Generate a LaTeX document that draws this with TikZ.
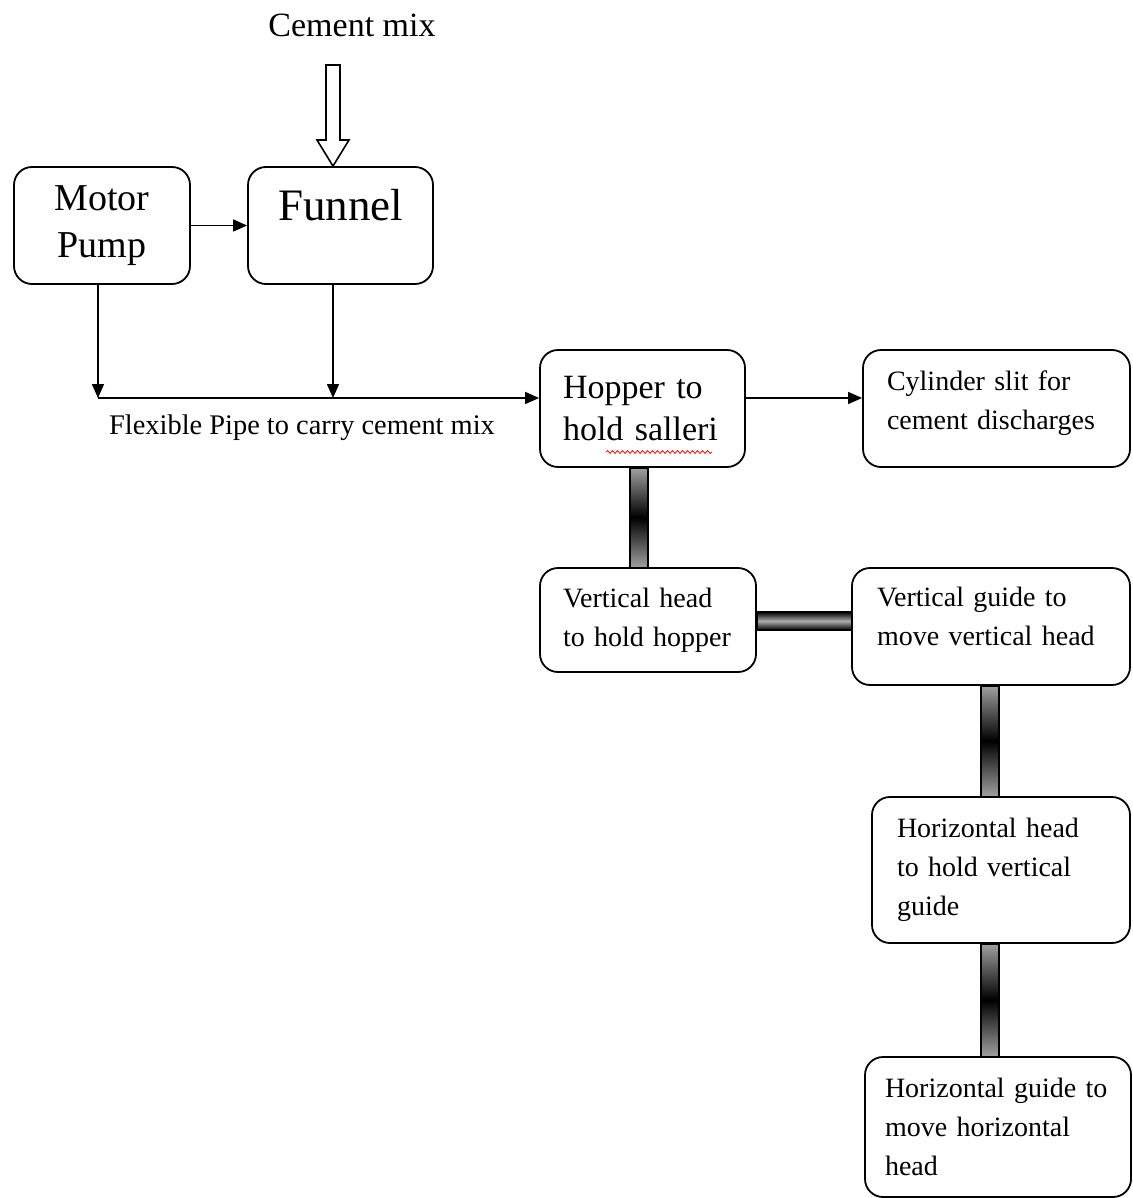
\documentclass[tikz,border=0pt]{standalone}
\usepackage{fontspec}
\setmainfont{Liberation Serif}
\usetikzlibrary{arrows.meta,positioning,decorations.pathmorphing}

\tikzset{
  box/.style={draw, line width=0.9pt, rounded corners=9pt, align=left},
  arr/.style={-{Triangle[length=7pt,width=6pt]}, line width=0.8pt},
  vbar/.style={draw, line width=0.6pt, top color=gray!75, bottom color=gray!75, middle color=black},
  hbar/.style={draw, line width=0.6pt, top color=black, bottom color=black, middle color=gray!65},
  small/.style={font=\fontsize{14}{19.5}\selectfont},
}

\begin{document}
\begin{tikzpicture}[x=0.5pt,y=-0.5pt]
  \useasboundingbox (0,0) rectangle (1133,1198);
  % top row
  \node[box, minimum width=88pt, minimum height=58.5pt, align=center,
        font=\fontsize{19}{23.5}\selectfont] (motor) at (102,225.5) {Motor\\Pump};
  \node[box, minimum width=92.5pt, minimum height=58.5pt, text height=16pt, text depth=21pt,
        font=\fontsize{22.5}{26}\selectfont] (funnel) at (340.5,225.5) {Funnel};
  \node[font=\fontsize{17}{20}\selectfont] (mixlabel) at (352,25) {Cement mix};
  % hollow arrow into the funnel
  \draw[line width=0.8pt, fill=white] (326,65) -- (340,65) -- (340,140) -- (349,140)
        -- (funnel.north -| 333,0) -- (317,140) -- (326,140) -- cycle;
  \draw[arr] (motor.east) -- (funnel.west);
  % flexible pipe
  \coordinate (pipe) at (98,398);
  \draw[arr] (motor.south -| pipe) -- (pipe);
  \draw[arr] ([xshift=-3.75pt]funnel.south) -- ([xshift=-3.75pt]funnel.south |- pipe);
  \node[font=\fontsize{14.2}{16}\selectfont] (pipelabel) at (302,428) {Flexible Pipe to carry cement mix};
  % right part
  \node[box, minimum width=102.5pt, minimum height=58.5pt, inner xsep=11.5pt, text width=79.5pt,
        font=\fontsize{17}{21}\selectfont] (hopper) at (642.5,408.5) {Hopper to\\hold salleri};
  \draw[red, line width=0.4pt, decorate, decoration={snake, amplitude=0.7pt, segment length=2.5pt}]
        (606,452) -- (712,452);
  \draw[arr] (pipe) -- (pipe -| hopper.west);
  \node[box, small, minimum width=133.5pt, minimum height=58.5pt, inner xsep=12pt, text width=109.5pt,
        text depth=28pt] (cylinder) at (996.5,408.5) {Cylinder slit for\\cement discharges};
  \draw[arr] (hopper.east |- pipe) -- (cylinder.west |- pipe);
  \node[box, small, minimum width=108pt, minimum height=52pt, inner xsep=11.5pt, text width=85pt]
        (vhead) at (648,620) {Vertical head\\to hold hopper};
  \node[box, small, minimum width=139pt, minimum height=58.5pt, inner xsep=12.5pt, text width=114pt,
        text depth=29.5pt] (vguide) at (991,626.5) {Vertical guide to\\move vertical head};
  \node[box, small, minimum width=129pt, minimum height=73pt, inner xsep=12.5pt, text width=104pt]
        (hhead) at (1001,870) {Horizontal head\\to hold vertical\\guide};
  \node[box, small, minimum width=133pt, minimum height=70pt, inner xsep=10pt, text width=113pt]
        (hguide) at (998,1127) {Horizontal guide to\\move horizontal\\head};
  % thick links
  \path[vbar] ([xshift=-6.25pt]hopper.south) rectangle ([xshift=2.75pt]hopper.south |- vhead.north);
  \path[hbar] ([yshift=4pt]vhead.east) rectangle ([yshift=-5pt]vhead.east -| vguide.west);
  \path[vbar] ([xshift=-5pt]vguide.south) rectangle ([xshift=4pt]vguide.south |- hhead.north);
  \path[vbar] ([xshift=-10pt]hhead.south) rectangle ([xshift=-1pt]hhead.south |- hguide.north);
\end{tikzpicture}
\end{document}
